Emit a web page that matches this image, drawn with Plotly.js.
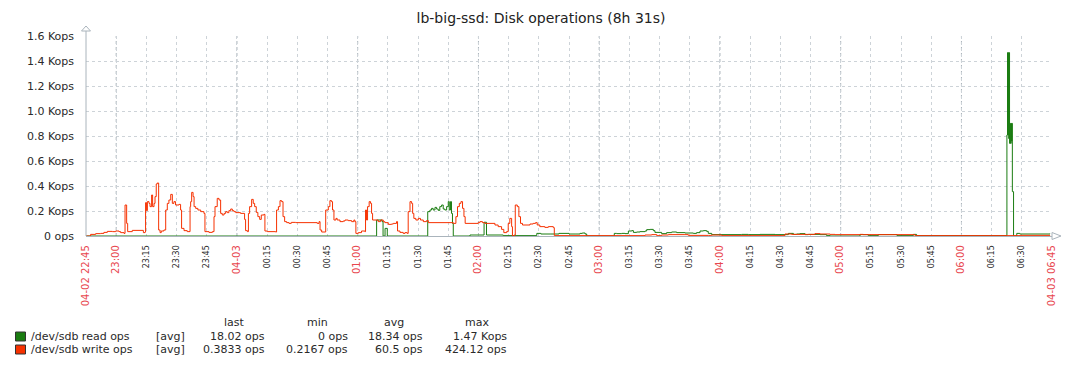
<!DOCTYPE html>
<html>
<head>
<meta charset="utf-8">
<script src="https://cdn.plot.ly/plotly-3.0.1.min.js"></script>
<style>
html,body{margin:0;padding:0;background:#fff;}
#chart{width:1082px;height:368px;}
</style>
</head>
<body>
<div id="chart"></div>
<script>
// ---- data (minutes after 04-02 22:45, ops) ----
const readMinutes = [0,144.4,147.1,147.6,148.6,149.7,169.8,170.9,171.7,172.5,173.4,174.2,175.0,175.8,176.7,177.5,178.3,179.2,180.0,180.5,181.1,181.6,182.1,182.5,190.8,197.8,199.0,207.3,224.0,226.0,230.6,235.0,240.0,243.0,245.5,246.6,248.0,248.8,262.5,263.7,266.2,267.8,269.5,271.2,272.0,273.6,275.3,277.8,278.6,280.3,281.9,282.7,286.0,288.5,291.0,293.5,297.6,301.8,303.4,305.1,306.8,308.4,309.2,310.9,325.8,329.1,334.9,342.4,349.0,351.5,353.1,354.8,357.3,358.9,364.7,368.0,369.7,384.6,388.7,393.7,399.5,403.0,411.1,412.7,457.6,457.9,458.1,458.3,458.5,458.7,458.9,459.3,459.5,459.7,459.9,460.1,460.3,460.9,462.5,464.0,479.0];
const readOps    = [0,128,115,0,61,0,195,208,221,208,229,216,205,235,248,216,208,235,275,208,275,181,101,0,8,110,8,3,21,16,16,21,16,16,21,24,16,0,21,19,21,19,40,43,29,32,35,40,51,53,43,29,19,27,32,27,24,21,27,40,43,37,21,11,13,11,13,11,21,13,16,19,11,13,11,3,0,11,3,11,11,3,13,3,808,1467,808,1467,780,1467,741,901,741,901,760,901,355,0,21,16,18];

const writeMinutes = [0,2.3,4.8,7.3,8.9,10.6,13.1,14.7,16.4,17.2,18.9,19.4,20.2,20.7,23.0,28.5,29.3,29.6,30.1,30.5,31.3,31.8,32.6,33.1,33.8,34.3,34.9,35.4,36.1,36.8,37.4,38.7,39.6,40.4,41.2,42.1,42.9,43.7,44.5,46.2,47.0,47.5,48.7,50.3,51.7,52.0,52.5,53.2,53.7,54.5,55.6,57.0,58.6,59.1,61.1,62.8,63.6,64.1,65.2,66.1,66.9,67.7,68.6,69.4,70.2,71.0,71.9,72.7,73.5,74.4,76.8,78.8,79.3,80.2,80.7,81.3,82.3,83.1,83.8,84.6,85.4,86.3,87.1,88.4,88.9,90.1,94.2,94.7,95.6,96.4,97.2,97.9,98.7,99.7,100.9,102.0,104.2,114.9,115.8,116.3,117.1,119.1,120.4,121.2,122.0,122.5,123.2,124.2,124.8,126.2,127.8,128.7,130.3,132.0,133.1,133.6,134.1,135.3,136.9,138.6,138.9,139.4,139.9,140.7,141.4,141.9,142.4,145.2,146.4,147.7,148.5,150.2,151.8,152.7,154.3,154.8,156.0,157.6,158.5,159.6,160.1,161.0,161.8,162.3,162.9,163.9,165.1,166.2,167.6,169.2,170.1,182.5,183.8,184.6,185.5,186.3,187.1,187.8,188.4,194.9,195.7,197.0,198.2,203.2,204.8,206.5,207.6,209.0,209.8,210.6,211.5,211.9,212.8,213.3,214.3,215.1,215.9,216.9,220.6,222.2,223.4,224.2,225.5,228.0,229.7,232.2,232.7,277.8,281.1,283.6,286.0,289.4,297.6,299.3,309.2,310.9,315.9,347.3,350.6,358.9,362.2,364.7,369.7,372.2,384.6,386.2,411.9,464.1,479.0];
const writeOps     = [0,13,19,21,29,37,35,40,35,27,21,248,101,35,45,27,32,267,203,275,261,235,328,235,261,315,416,424,48,27,40,48,208,261,288,333,261,275,248,253,208,61,43,35,235,275,349,315,235,221,208,195,181,35,29,35,155,235,301,288,181,168,181,195,187,203,216,203,195,187,181,133,43,35,181,235,293,261,235,189,155,133,168,173,40,35,32,208,235,283,275,155,115,107,101,109,107,101,115,48,32,208,235,283,275,208,128,141,128,115,120,128,123,115,128,115,21,27,40,35,208,128,235,275,261,181,128,115,128,115,107,93,96,101,115,40,29,21,27,21,195,275,261,181,141,128,141,128,115,123,107,101,155,235,261,275,221,155,101,107,115,107,101,88,75,53,27,35,101,141,75,0,8,248,235,155,101,88,96,101,107,88,75,69,75,67,3,8,11,3,8,11,11,5,5,8,3,16,13,13,19,16,13,11,13,11,3,5,3];

const tickMinutes = [0,15,30,45,60,75,90,105,120,135,150,165,180,195,210,225,240,255,270,285,300,315,330,345,360,375,390,405,420,435,450,465,480];
const tickLabels  = ["04-02 22:45","23:00","23:15","23:30","23:45","04-03","00:15","00:30","00:45","01:00","01:15","01:30","01:45","02:00","02:15","02:30","02:45","03:00","03:15","03:30","03:45","04:00","04:15","04:30","04:45","05:00","05:15","05:30","05:45","06:00","06:15","06:30","04-03 06:45"];
const yTickValues = [0,200,400,600,800,1000,1200,1400,1600];
const yTickLabels = ["0 ops","0.2 Kops","0.4 Kops","0.6 Kops","0.8 Kops","1.0 Kops","1.2 Kops","1.4 Kops","1.6 Kops"];

const seriesNames  = ["/dev/sdb read ops","/dev/sdb write ops"];
const seriesColors = ["#1A7C11","#F63100"];
const legendFunc   = ["[avg]","[avg]"];
const legendLast   = ["18.02 ops","0.3833 ops"];
const legendMin    = ["0 ops","0.2167 ops"];
const legendAvg    = ["18.34 ops","60.5 ops"];
const legendMax    = ["1.47 Kops","424.12 ops"];
const legendHeader = ["last","min","avg","max"];

// ---- geometry helpers (pixel -> paper) ----
const L = 86, R = 1052, T = 36, B = 236;
const px = x => (x - L) / (R - L);
const py = y => (B - y) / (B - T);
const FONT = "DejaVu Sans, sans-serif";
const TXT = "#2a2a2a";
const RED = "#e8474f";

// the axis starts at 22:45, so whole hours fall where minutes % 60 == 15
const isHour = m => m % 60 === 15;
const isMajor = (m, i) => isHour(m) || i === 0 || i === tickMinutes.length - 1;
const tickText = tickLabels.map((t, i) =>
  isMajor(tickMinutes[i], i) ? '<span style="color:' + RED + ';font-size:10px">' + t + '</span>' : t);

const traces = [
  {x: readMinutes, y: readOps, type: "scatter", mode: "lines", line: {color: seriesColors[0], width: 1, shape: "hv"}, hoverinfo: "skip"},
  {x: writeMinutes, y: writeOps, type: "scatter", mode: "lines", line: {color: seriesColors[1], width: 1, shape: "hv"}, hoverinfo: "skip"}
];

const shapes = [];
// darker hour grid lines
tickMinutes.forEach((m) => {
  if (isHour(m)) {
    shapes.push({type: "line", xref: "x", yref: "paper", x0: m, x1: m, y0: 0, y1: 1, layer: "below",
      line: {color: "#a9b2b9", width: 1, dash: "dot"}});
  }
});
// y axis line with arrow
shapes.push({type: "line", xref: "paper", yref: "paper", x0: 0, x1: 0, y0: 0, y1: py(31), line: {color: "#aab4bc", width: 1}});
shapes.push({type: "path", xref: "paper", yref: "paper",
  path: "M" + px(81.5) + "," + py(31) + " L" + px(86) + "," + py(26) + " L" + px(90.5) + "," + py(31) + " Z",
  line: {color: "#aab4bc", width: 1}, fillcolor: "#ffffff"});
// x axis arrow
shapes.push({type: "path", xref: "paper", yref: "paper",
  path: "M" + px(1052) + "," + py(232.5) + " L" + px(1061) + "," + py(236) + " L" + px(1052) + "," + py(239.5) + " Z",
  line: {color: "#aab4bc", width: 1}, fillcolor: "#ffffff"});

const annotations = [];
const LEG = 11;
const legendRowsY = [336.5, 349.5];
const headerX = [234, 317.5, 394, 477];
const valueRight = [265.7, 349, 424.3, 507.7];
legendHeader.forEach((h, i) => {
  annotations.push({xref: "paper", yref: "paper", x: px(headerX[i]), y: py(322), text: h, showarrow: false,
    xanchor: "center", yanchor: "middle", font: {family: FONT, size: LEG, color: TXT}});
});
seriesNames.forEach((name, r) => {
  const yy = legendRowsY[r];
  shapes.push({type: "rect", xref: "paper", yref: "paper", x0: px(15.5), x1: px(25.5), y0: py(yy - 4.5), y1: py(yy + 4.5),
    fillcolor: seriesColors[r], line: {color: "#333", width: 1}});
  annotations.push({xref: "paper", yref: "paper", x: px(28.5), y: py(yy), text: name, showarrow: false,
    xanchor: "left", yanchor: "middle", font: {family: FONT, size: LEG, color: TXT}});
  annotations.push({xref: "paper", yref: "paper", x: px(154), y: py(yy), text: legendFunc[r], showarrow: false,
    xanchor: "left", yanchor: "middle", font: {family: FONT, size: LEG, color: TXT}});
  [legendLast[r], legendMin[r], legendAvg[r], legendMax[r]].forEach((v, c) => {
    annotations.push({xref: "paper", yref: "paper", x: px(valueRight[c] + 1), y: py(yy), text: v, showarrow: false,
      xanchor: "right", yanchor: "middle", font: {family: FONT, size: LEG, color: TXT}});
  });
});

const layout = {
  width: 1082, height: 368,
  margin: {l: L, r: 1082 - R, t: T, b: 368 - B, pad: 0},
  paper_bgcolor: "#ffffff", plot_bgcolor: "#ffffff",
  showlegend: false,
  title: {text: "lb-big-ssd: Disk operations (8h 31s)", x: 0.5, xref: "container", xanchor: "center",
    y: 1 - 18 / 368, yref: "container", yanchor: "middle", font: {family: FONT, size: 14, color: "#222"}},
  xaxis: {
    range: [0, 480], fixedrange: true,
    tickmode: "array", tickvals: tickMinutes, ticktext: tickText, tickangle: -90,
    tickfont: {family: FONT, size: 8, color: TXT},
    showgrid: true, gridcolor: "#cdd3d8", griddash: "dot", gridwidth: 1,
    showline: true, linecolor: "#aab4bc", linewidth: 1, zeroline: false,
    ticks: "", ticklabelstandoff: 5
  },
  yaxis: {
    range: [0, 1600], fixedrange: true,
    tickmode: "array", tickvals: yTickValues, ticktext: yTickLabels,
    tickfont: {family: FONT, size: 11, color: TXT},
    showgrid: true, gridcolor: "#cdd3d8", griddash: "dot", gridwidth: 1,
    showline: false, zeroline: false, ticks: "", ticklabelstandoff: 11
  },
  shapes: shapes,
  annotations: annotations
};

Plotly.newPlot("chart", traces, layout, {displayModeBar: false, staticPlot: true});
</script>
</body>
</html>
